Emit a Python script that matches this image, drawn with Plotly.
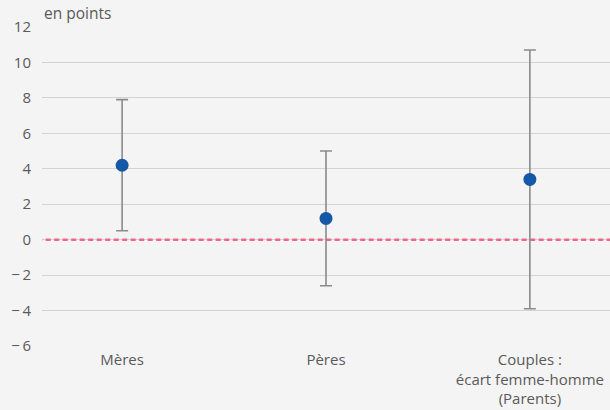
import plotly.graph_objects as go

# Estimates with 95% confidence bounds, in points
categories = ["Mères", "Pères", "Couples :<br>écart femme-homme<br>(Parents)"]
estimates = [4.2, 1.2, 3.4]
lower = [0.5, -2.6, -3.9]
upper = [7.9, 5.0, 10.7]

y_ticks = [-6, -4, -2, 0, 2, 4, 6, 8, 10, 12]
y_tick_labels = [("\u2212" + "\u2009" + str(-v)) if v < 0 else str(v) for v in y_ticks]

err_plus = [u - e for u, e in zip(upper, estimates)]
err_minus = [e - l for e, l in zip(estimates, lower)]

fig = go.Figure()

# Zero reference line
fig.add_trace(go.Scatter(
    x=[-0.5, 2.5], y=[0, 0], mode="lines",
    line=dict(color="#f0658a", width=2.5, dash="5px,3.5px"),
    hoverinfo="skip", showlegend=False,
))

fig.add_trace(go.Scatter(
    x=list(range(len(categories))), y=estimates, mode="markers",
    marker=dict(color="#1558a8", size=13),
    error_y=dict(type="data", symmetric=False, array=err_plus, arrayminus=err_minus,
                 color="#8a8a8a", thickness=1.6, width=6),
    showlegend=False,
))

fig.update_layout(
    width=610, height=410,
    margin=dict(l=42, r=0, t=27, b=64),
    paper_bgcolor="#f4f4f4", plot_bgcolor="#f4f4f4",
    font=dict(family="Open Sans, Noto Sans, sans-serif", size=14, color="#5a5a5a"),
    xaxis=dict(
        range=[-0.393, 2.393], tickmode="array",
        tickvals=list(range(len(categories))), ticktext=categories,
        showgrid=False, zeroline=False, showline=False, ticks="",
        automargin=False, ticklabelstandoff=3,
        tickfont=dict(size=15, color="#5a5a5a"),
    ),
    yaxis=dict(
        range=[-6, 12], tickmode="array", tickvals=y_ticks, ticktext=y_tick_labels,
        showgrid=True, gridcolor="#d3d3d3", gridwidth=1.2,
        zeroline=False, showline=False, ticks="", ticklen=0,
        automargin=False, ticklabelstandoff=10,
        tickfont=dict(size=15, color="#5a5a5a"),
    ),
    annotations=[dict(
        text="en points", xref="paper", yref="paper", x=0, y=1,
        xanchor="left", yanchor="bottom", yshift=1, showarrow=False,
        font=dict(size=15.5, color="#5a5a5a"),
    )],
)

fig.write_html("out.html")
